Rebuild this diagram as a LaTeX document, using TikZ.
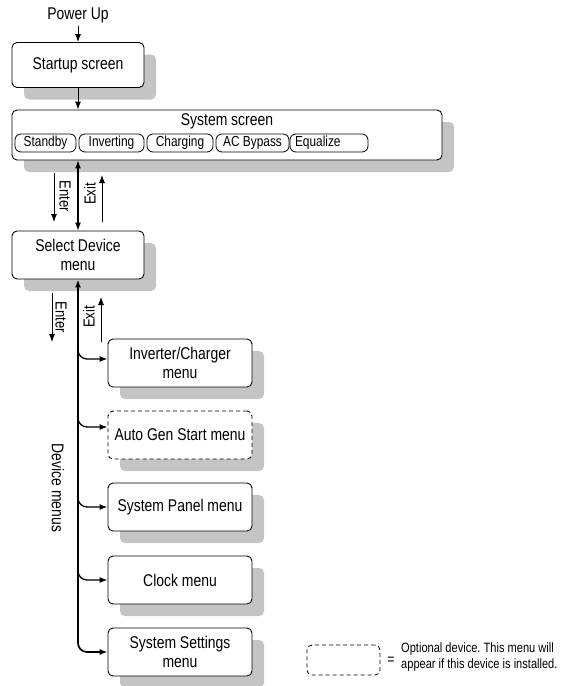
\documentclass[tikz,border=0pt]{standalone}
\usepackage{fontspec}
\setmainfont[FakeStretch=0.82]{Liberation Sans}
\usetikzlibrary{arrows.meta,shadows,calc}
\definecolor{shad}{HTML}{C4C4C4}
\frenchspacing
\tikzset{
  box/.style={draw, line width=0.9pt, rounded corners=5pt, fill=white, align=center, inner sep=0pt,
    minimum width=#1, font=\fontsize{17}{19}\selectfont,
    drop shadow={shadow xshift=12pt, shadow yshift=-12pt, fill=shad, opacity=1}},
  box/.default=144pt,
  pill/.style={draw, line width=0.8pt, rounded corners=6pt, inner sep=0pt, minimum height=18pt,
    font=\fontsize{14.5}{17}\selectfont},
  arr/.style={-{Latex[length=8pt,width=6pt]}, line width=0.9pt},
  branch/.style={-{Latex[length=8pt,width=6pt]}, line width=1.3pt, rounded corners=9pt},
  lbl/.style={font=\fontsize{16}{18}\selectfont},
  optdash/.style={dash pattern=on 4pt off 3pt},
}
\begin{document}
\begin{tikzpicture}[x=1pt,y=-1pt]
\useasboundingbox (0,0) rectangle (568,686);
\node[lbl, font=\fontsize{17}{19}\selectfont] (pu) at (78,15) {Power Up};
\node[box=132pt, minimum height=45pt] (start) at (78,65) {Startup screen};
\node[box=430pt, minimum height=50pt] (sys) at (227,135) {};
\node[font=\fontsize{17}{19}\selectfont] (systitle) at (227,121) {System screen};
\node[pill, minimum width=61pt] (p1) at (45.5,143) {Standby};
\node[pill, minimum width=65pt] (p2) at (111.5,143) {Inverting};
\node[pill, minimum width=66pt] (p3) at (180,143) {Charging};
\node[pill, minimum width=73pt] (p4) at (252.5,143) {AC Bypass};
\node[pill, minimum width=78pt, text width=68pt, align=left] (p5) at (329,143) {Equalize};
\node[box=132pt, minimum height=48pt] (sel) at (78,255) {Select Device\\menu};
\node[box, minimum height=48pt] (inv) at (180,363) {Inverter/Charger\\menu};
\node[box, minimum height=48pt, optdash] (ags) at (180,435) {Auto Gen Start menu};
\node[box, minimum height=48pt] (pan) at (180,507) {System Panel menu};
\node[box, minimum height=48pt] (clk) at (180,580) {Clock menu};
\node[box, minimum height=48pt] (set) at (180,652) {System Settings\\menu};
% top arrows
\draw[arr] (pu.south) -- (start.north);
\draw[arr] (start.south) -- (sys.north -| start.south);
\draw[{Latex[length=8pt,width=6pt]}-{Latex[length=8pt,width=6pt]}, line width=1.1pt] (sys.south -| sel.north) -- (sel.north);
% enter/exit 1
\coordinate (e1a) at (54,173); \coordinate (e1b) at (54,222);
\coordinate (x1a) at (102,222); \coordinate (x1b) at (102,175);
\draw[arr] (e1a) -- (e1b);
\draw[arr] (x1a) -- (x1b);
\node[lbl, rotate=-90] (en1) at (65,196) {Enter};
\node[lbl, rotate=90] (ex1) at (90,194) {Exit};
% enter/exit 2
\coordinate (e2a) at (52,293); \coordinate (e2b) at (52,342);
\coordinate (x2a) at (101,342); \coordinate (x2b) at (101,297);
\draw[arr] (e2a) -- (e2b);
\draw[arr] (x2a) -- (x2b);
\node[lbl, rotate=-90] (en2) at (61,317) {Enter};
\node[lbl, rotate=90] (ex2) at (89,317) {Exit};
% main line
\draw[branch, {Latex[length=8pt,width=6pt]}-{Latex[length=8pt,width=6pt]}, line width=1.7pt] (sel.south) |- (set.west);
\coordinate (b1) at ($(inv.west -| sel.south)+(0,-14)$);
\coordinate (b2) at ($(ags.west -| sel.south)+(0,-14)$);
\coordinate (b3) at ($(pan.west -| sel.south)+(0,-14)$);
\coordinate (b4) at ($(clk.west -| sel.south)+(0,-14)$);
\draw[branch] (b1) |- ($(inv.west)+(0,-4)$);
\draw[branch] (b2) |- ($(ags.west)+(0,-8)$);
\draw[branch] (b3) |- (pan.west);
\draw[branch] (b4) |- (clk.west);
\node[lbl, rotate=-90, font=\fontsize{17}{19}\selectfont] (dm) at (58,488) {Device menus};
% legend
\node[draw, optdash, line width=0.8pt, rounded corners=5pt, minimum width=73pt, minimum height=30pt] (leg) at (343.5,660) {};
\node[font=\fontsize{15}{17}\selectfont] (eq) at (391,661) {=};
\node[anchor=west, align=left, inner sep=0pt, font=\fontsize{13.5}{17}\selectfont] (legt) at (401,657) {Optional device. This menu will\\appear if this device is installed.};
\end{tikzpicture}
\end{document}
